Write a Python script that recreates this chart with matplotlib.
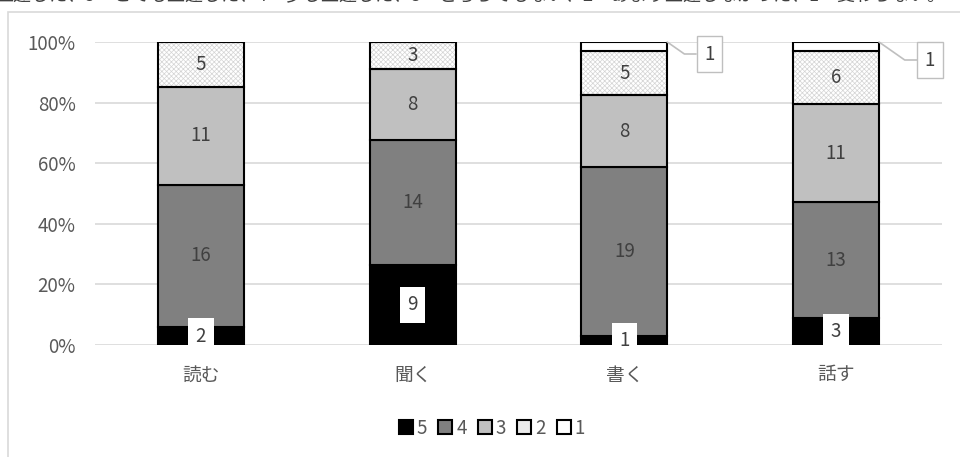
import numpy as np
import matplotlib.pyplot as plt
from matplotlib.patches import Patch, Rectangle

plt.rcParams['font.family'] = ['Noto Sans CJK JP', 'DejaVu Sans']
plt.rcParams['hatch.linewidth'] = 0.5

# 回答数（5段階評価）
categories = ['読む', '聞く', '書く', '話す']
levels = ['5', '4', '3', '2', '1']
r5 = [2, 9, 1, 3]
r4 = [16, 14, 19, 13]
r3 = [11, 8, 8, 11]
r2 = [5, 3, 5, 6]
r1 = [0, 0, 1, 1]

counts = np.array([r5, r4, r3, r2, r1], dtype=float)
pct = counts / counts.sum(axis=0) * 100

colors = ['#000000', '#808080', '#c0c0c0', '#ffffff', '#ffffff']
txt = '#595959'
fs = 13.5

fig = plt.figure(figsize=(9.6, 4.57), dpi=100)

# 文書から切り取った上端の文字
fig.text(-0.005, 1 + 5 / 457, '上達した、5＝とても上達した、4＝少し上達した、3＝どちらでもない、2＝あまり上達しなかった、1＝変わらない。',
         fontsize=13, color='#404040', va='center', ha='left')
# グラフ枠
fig.patches.append(Rectangle((8 / 960, -0.1), 1.0, 1 - 12 / 457 + 0.1, transform=fig.transFigure,
                             fill=False, ec='#d9d9d9', lw=1.2))

ax = fig.add_axes([95 / 960, 1 - 345 / 457, 847 / 960, 303 / 457])
x = np.arange(len(categories))
w = 0.405

bottom = np.zeros(len(categories))
for i, lv in enumerate(levels):
    if lv == '2':
        ax.bar(x, pct[i], w, bottom=bottom, color='white', edgecolor='#d4d4d4',
               hatch='xxxxxxx', linewidth=0, zorder=2)
        ax.bar(x, pct[i], w, bottom=bottom, color='none', edgecolor='black',
               linewidth=1.5, zorder=3)
    else:
        ax.bar(x, pct[i], w, bottom=bottom, color=colors[i], edgecolor='black',
               linewidth=1.5, zorder=3)
    for j in range(len(categories)):
        c = counts[i, j]
        if c == 0:
            continue
        yc = bottom[j] + pct[i, j] / 2
        if lv == '5':
            ax.text(x[j], yc, f'{int(c)}', ha='center', va='center', fontsize=fs,
                    color='#404040', zorder=5,
                    bbox=dict(fc='white', ec='none', boxstyle='square,pad=0.4'))
        elif lv == '1':
            ax.annotate(f'{int(c)}', xy=(x[j] + w / 2, bottom[j] + pct[i, j]),
                        xytext=(42 + 9 * (j == 3), -12 - 6 * (j == 3)), textcoords='offset pixels',
                        ha='center', va='center', fontsize=fs, color='#404040', zorder=5,
                        bbox=dict(fc='white', ec='#bfbfbf', boxstyle='square,pad=0.4'),
                        arrowprops=dict(arrowstyle='-', color='#bfbfbf', lw=1.2,
                                        shrinkA=0, shrinkB=0,
                                        connectionstyle='angle,angleA=0,angleB=-35,rad=0'))
        else:
            ax.text(x[j], yc, f'{int(c)}', ha='center', va='center', fontsize=fs,
                    color='#404040', zorder=5)
    bottom += pct[i]

ax.set_xlim(-0.5, len(categories) - 0.5)
ax.set_ylim(0, 100)
ax.set_yticks(np.arange(0, 101, 20))
ax.set_yticklabels([f'{v}%' for v in range(0, 101, 20)])
ax.set_xticks(x)
ax.set_xticklabels(categories)
ax.yaxis.grid(True, color='#d9d9d9', lw=1.2, zorder=0)
ax.set_axisbelow(True)
for s in ax.spines.values():
    s.set_visible(False)
ax.tick_params(axis='both', length=0, labelsize=fs, labelcolor=txt)
ax.tick_params(axis='x', labelsize=13.5, pad=14)
ax.tick_params(axis='y', pad=14)

handles = [Patch(facecolor=colors[i], edgecolor='black', lw=1.5) for i in range(5)]
handles[3] = Patch(facecolor='#ebebeb', edgecolor='black', lw=1.5)
fig.legend(handles, levels, loc='center', bbox_to_anchor=(492 / 960, 1 - 428 / 457),
           ncol=5, frameon=False, fontsize=fs, labelcolor=txt,
           handlelength=0.75, handleheight=0.75, handletextpad=0.2, columnspacing=0.6)

fig.savefig('out.png', dpi=100)
